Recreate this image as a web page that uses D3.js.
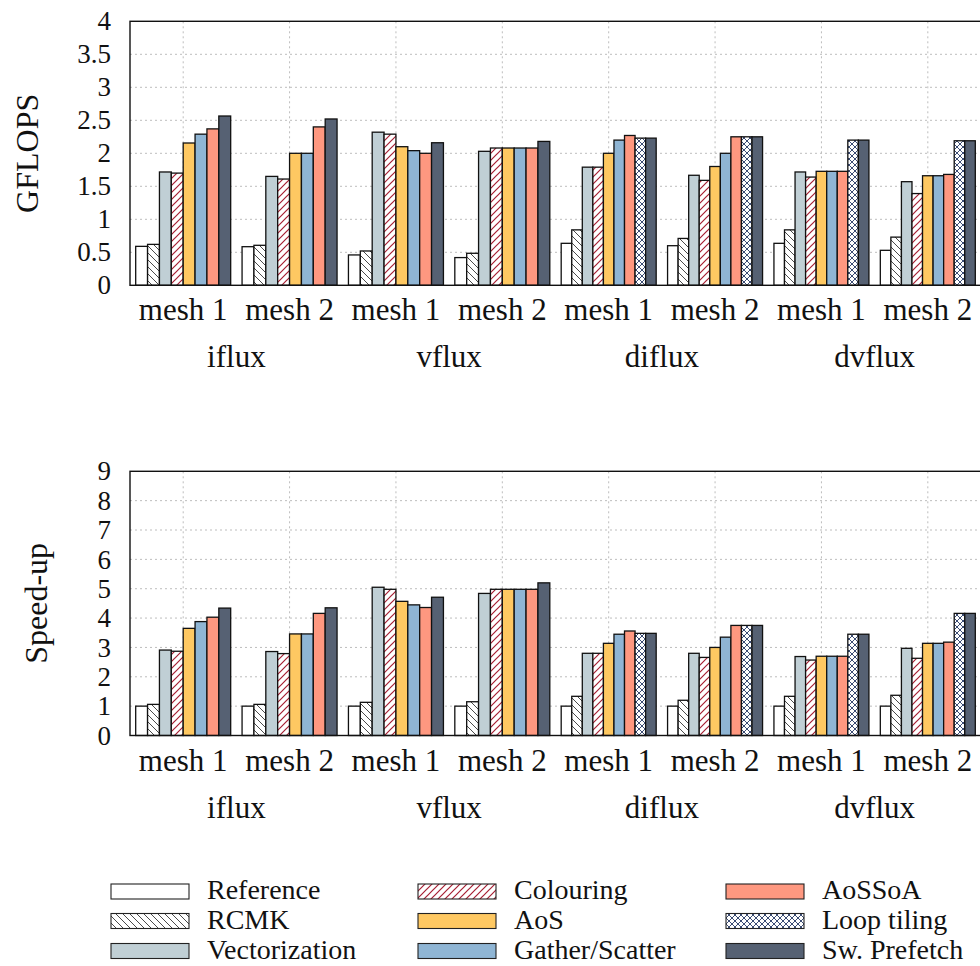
<!DOCTYPE html>
<html>
<head>
<meta charset="utf-8">
<script src="https://cdn.jsdelivr.net/npm/d3@7"></script>
<style>
  html, body { margin: 0; padding: 0; background: #fff; }
  svg { display: block; }
  text { font-family: "Liberation Serif", "DejaVu Serif", serif; fill: #111; }
</style>
</head>
<body>
<svg id="chart" width="980" height="966"></svg>
<script>
// Kernels and meshes along the x axis
const kernels = ["iflux", "vflux", "diflux", "dvflux"];
const meshes = ["mesh 1", "mesh 2"];

// Optimisation variants (legend order)
const series = ["Reference", "RCMK", "Vectorization", "Colouring", "AoS",
                "Gather/Scatter", "AoSSoA", "Loop tiling", "Sw. Prefetch"];

// GFLOPS per variant, one value per kernel/mesh group (null = not measured)
const gflopsReference     = [0.59, 0.585, 0.46, 0.42, 0.636, 0.60, 0.636, 0.53];
const gflopsRCMK          = [0.62, 0.606, 0.52, 0.485, 0.84, 0.71, 0.84, 0.73];
const gflopsVectorization = [1.717, 1.65, 2.32, 2.03, 1.79, 1.667, 1.717, 1.57];
const gflopsColouring     = [1.70, 1.61, 2.29, 2.08, 1.79, 1.59, 1.64, 1.39];
const gflopsAoS           = [2.156, 2.00, 2.10, 2.08, 2.00, 1.80, 1.727, 1.66];
const gflopsGatherScatter = [2.29, 2.00, 2.04, 2.08, 2.20, 2.00, 1.727, 1.66];
const gflopsAoSSoA        = [2.37, 2.40, 2.00, 2.08, 2.27, 2.25, 1.727, 1.68];
const gflopsLoopTiling    = [null, null, null, null, 2.23, 2.25, 2.20, 2.19];
const gflopsSwPrefetch    = [2.565, 2.52, 2.16, 2.18, 2.23, 2.25, 2.20, 2.19];

// Speed-up over the reference implementation
const speedupReference     = [1, 1, 1, 1, 1, 1, 1, 1];
const speedupRCMK          = [1.06, 1.06, 1.13, 1.15, 1.335, 1.2, 1.335, 1.37];
const speedupVectorization = [2.91, 2.86, 5.05, 4.84, 2.80, 2.80, 2.69, 2.97];
const speedupColouring     = [2.87, 2.79, 4.98, 4.98, 2.80, 2.66, 2.57, 2.63];
const speedupAoS           = [3.65, 3.46, 4.57, 4.98, 3.14, 3.00, 2.70, 3.14];
const speedupGatherScatter = [3.88, 3.46, 4.45, 4.98, 3.45, 3.35, 2.70, 3.14];
const speedupAoSSoA        = [4.03, 4.16, 4.36, 4.98, 3.56, 3.75, 2.70, 3.18];
const speedupLoopTiling    = [null, null, null, null, 3.48, 3.75, 3.45, 4.16];
const speedupSwPrefetch    = [4.34, 4.35, 4.71, 5.20, 3.48, 3.75, 3.45, 4.16];

// Tick labels
const gflopsTicks = [0, 0.5, 1, 1.5, 2, 2.5, 3, 3.5, 4];
const speedupTicks = [0, 1, 2, 3, 4, 5, 6, 7, 8, 9];

const gflopsData = [gflopsReference, gflopsRCMK, gflopsVectorization, gflopsColouring,
  gflopsAoS, gflopsGatherScatter, gflopsAoSSoA, gflopsLoopTiling, gflopsSwPrefetch];
const speedupData = [speedupReference, speedupRCMK, speedupVectorization, speedupColouring,
  speedupAoS, speedupGatherScatter, speedupAoSSoA, speedupLoopTiling, speedupSwPrefetch];

// Fill of each variant: plain colour or pattern id
const fills = {
  "Reference": "#ffffff",
  "RCMK": "url(#hatchNW)",
  "Vectorization": "#c0cfd5",
  "Colouring": "url(#hatchNE)",
  "AoS": "#fec862",
  "Gather/Scatter": "#8fb5d4",
  "AoSSoA": "#fe9880",
  "Loop tiling": "url(#crossHatch)",
  "Sw. Prefetch": "#566173"
};

const groups = [];
kernels.forEach(k => meshes.forEach(m => groups.push({ kernel: k, mesh: m, id: k + "|" + m })));

const svg = d3.select("#chart");
svg.append("rect").attr("width", 980).attr("height", 966).attr("fill", "#fff");

// Hatch patterns
const defs = svg.append("defs");
function linePattern(id, size, color, width, dirs) {
  const p = defs.append("pattern").attr("id", id)
    .attr("patternUnits", "userSpaceOnUse").attr("width", size).attr("height", size);
  p.append("rect").attr("width", size).attr("height", size).attr("fill", "#fff");
  const s = size;
  dirs.forEach(d => {
    const path = d === "nw"
      ? `M${-s},0 L${s},${2*s} M0,${-s} L${2*s},${s} M${-s},${-s} L${2*s},${2*s}`
      : `M${-s},${s} L${s},${-s} M0,${2*s} L${2*s},0 M${-s},${2*s} L${2*s},${-s}`;
    p.append("path").attr("d", path).attr("stroke", color)
      .attr("stroke-width", width).attr("fill", "none");
  });
}
linePattern("hatchNW", 7, "#4a4a4a", 1, ["nw"]);
linePattern("hatchNE", 7, "#a61e32", 1.2, ["ne"]);
linePattern("crossHatch", 6, "#3b4c74", 1, ["nw", "ne"]);

const marginLeft = 130, plotRight = 981;
const x0 = d3.scaleBand().domain(groups.map(g => g.id)).range([marginLeft, plotRight])
  .paddingInner(0.107).paddingOuter(0.0535);

function drawPanel(top, bottom, yMax, ticks, data, yLabel, yLabelX) {
  const y = d3.scaleLinear().domain([0, yMax]).range([bottom, top]);
  const g = svg.append("g");

  // Grid
  g.append("g").selectAll("line").data(ticks.filter(t => t > 0 && t < yMax)).join("line")
    .attr("x1", marginLeft).attr("x2", plotRight)
    .attr("y1", d => y(d)).attr("y2", d => y(d))
    .attr("stroke", "#bdbdbd").attr("stroke-width", 1).attr("stroke-dasharray", "2,3");
  g.append("g").selectAll("line").data(groups).join("line")
    .attr("x1", d => x0(d.id) + x0.bandwidth() / 2).attr("x2", d => x0(d.id) + x0.bandwidth() / 2)
    .attr("y1", top).attr("y2", bottom)
    .attr("stroke", "#bdbdbd").attr("stroke-width", 1).attr("stroke-dasharray", "2,3");

  // Bars
  groups.forEach((grp, gi) => {
    const present = series.filter((s, si) => data[si][gi] !== null);
    const x1 = d3.scaleBand().domain(present).range([x0(grp.id), x0(grp.id) + x0.bandwidth()]);
    g.append("g").selectAll("rect").data(present).join("rect")
      .attr("x", s => x1(s))
      .attr("width", x1.bandwidth())
      .attr("y", s => y(data[series.indexOf(s)][gi]))
      .attr("height", s => y(0) - y(data[series.indexOf(s)][gi]))
      .attr("fill", s => fills[s])
      .attr("stroke", "#111").attr("stroke-width", 1.3);
  });

  // Frame
  g.append("rect").attr("x", marginLeft).attr("y", top)
    .attr("width", plotRight - marginLeft).attr("height", bottom - top)
    .attr("fill", "none").attr("stroke", "#111").attr("stroke-width", 1.4);

  // Y axis labels
  const yAxis = d3.axisLeft(y).tickValues(ticks).tickSize(0).tickPadding(19)
    .tickFormat(d => String(d));
  const ya = g.append("g").attr("transform", `translate(${marginLeft},0)`).call(yAxis);
  ya.select(".domain").remove();
  ya.selectAll("text").attr("font-size", 27).attr("font-family", "Liberation Serif").attr("fill", "#111");

  // X axis: mesh labels
  const xAxis = d3.axisBottom(x0).tickSize(0).tickPadding(13).tickFormat(id => id.split("|")[1]);
  const xa = g.append("g").attr("transform", `translate(0,${bottom})`).call(xAxis);
  xa.select(".domain").remove();
  xa.selectAll("text").attr("font-size", 31).attr("font-family", "Liberation Serif").attr("fill", "#111");

  // Kernel labels centred under each pair of meshes
  g.append("g").selectAll("text").data(kernels).join("text")
    .attr("x", k => (x0(k + "|mesh 1") + x0(k + "|mesh 2") + x0.bandwidth()) / 2)
    .attr("y", bottom + 82)
    .attr("text-anchor", "middle").attr("font-size", 31).text(k => k);

  // Axis title
  g.append("text")
    .attr("transform", `translate(${yLabelX},${(top + bottom) / 2}) rotate(-90)`)
    .attr("text-anchor", "middle").attr("font-size", 32).text(yLabel);
}

drawPanel(21.3, 285.3, 4, gflopsTicks, gflopsData, "GFLOPS", 38);
drawPanel(471.3, 735.5, 9, speedupTicks, speedupData, "Speed-up", 47);

// Legend: three columns of three entries
const legendCols = [111, 418, 726];
const legendRows = [891.5, 921, 951];
const legend = svg.append("g");
series.forEach((s, i) => {
  const cx = legendCols[Math.floor(i / 3)];
  const cy = legendRows[i % 3];
  legend.append("rect").attr("x", cx).attr("y", cy - 7.5).attr("width", 78).attr("height", 15)
    .attr("fill", fills[s]).attr("stroke", "#222").attr("stroke-width", 1.1);
  legend.append("text").attr("x", cx + 96).attr("y", cy + 7.5)
    .attr("font-size", 28).text(s);
});
</script>
</body>
</html>
